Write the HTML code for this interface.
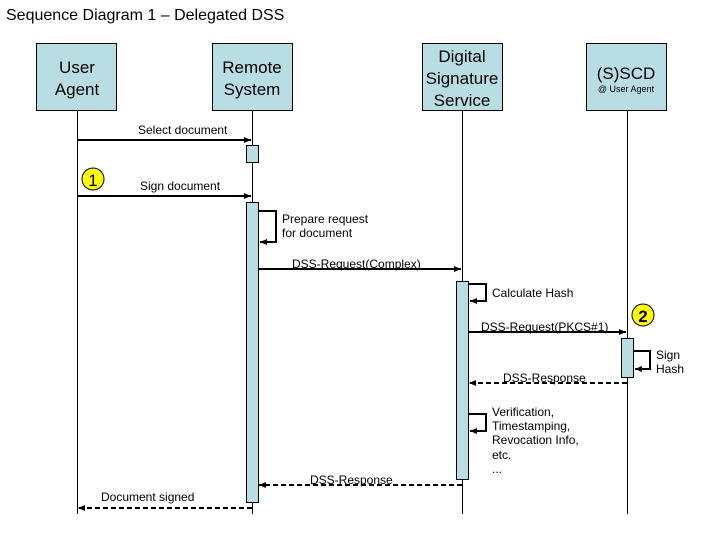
<!DOCTYPE html>
<html><head><meta charset="utf-8"><style>
body{margin:0;background:#fff}
svg{display:block}
text{font-family:"Liberation Sans",Arial,sans-serif;fill:#000}
</style></head><body>
<svg width="720" height="540" viewBox="0 0 720 540" xmlns="http://www.w3.org/2000/svg">
<defs>
<marker id="a" markerWidth="8" markerHeight="8" refX="7" refY="4" orient="auto" markerUnits="userSpaceOnUse">
<path d="M0,1 L7,4 L0,7 Z" fill="#000"/></marker>
</defs>
<text x="6" y="20" font-size="16">Sequence Diagram 1 – Delegated DSS</text>
<g fill="#b8dde3" stroke="#000" stroke-width="1">
<rect x="36.5" y="43.5" width="80" height="67"/>
<rect x="212.5" y="43.5" width="80" height="67"/>
<rect x="422.5" y="43.5" width="80" height="67"/>
<rect x="586.5" y="43.5" width="80" height="67"/>
</g>
<g font-size="17" text-anchor="middle">
<text x="77" y="73">User</text><text x="77" y="95">Agent</text>
<text x="252" y="73">Remote</text><text x="252" y="95">System</text>
<text x="462" y="62">Digital</text><text x="462" y="84">Signature</text><text x="462" y="106">Service</text>
<text x="626" y="79">(S)SCD</text>
<text x="626" y="92" font-size="9">@ User Agent</text>
</g>
<g stroke="#000" stroke-width="1">
<line x1="77.5" y1="111" x2="77.5" y2="514"/>
<line x1="252.5" y1="111" x2="252.5" y2="514"/>
<line x1="462.5" y1="111" x2="462.5" y2="514"/>
<line x1="627.5" y1="111" x2="627.5" y2="514"/>
</g>
<g fill="#b8dde3" stroke="#000" stroke-width="1">
<rect x="246.5" y="145.5" width="12" height="17"/>
<rect x="246.5" y="202.5" width="12" height="300"/>
<rect x="456.5" y="281.5" width="12" height="198"/>
<rect x="621.5" y="338.5" width="12" height="39"/>
</g>
<g stroke="#000" stroke-width="2" fill="none">
<line x1="77" y1="140" x2="251" y2="140" marker-end="url(#a)"/>
<line x1="77" y1="196" x2="251" y2="196" marker-end="url(#a)"/>
<polyline points="258,211 276,211 276,242 260,242" marker-end="url(#a)"/>
<line x1="258" y1="269" x2="461" y2="269" marker-end="url(#a)"/>
<polyline points="468,284 486,284 486,301 470,301" marker-end="url(#a)"/>
<line x1="468" y1="332" x2="626" y2="332" marker-end="url(#a)"/>
<polyline points="633,351 650,351 650,369 635,369" marker-end="url(#a)"/>
<polyline points="468,414 486,414 486,431 470,431" marker-end="url(#a)"/>
<g stroke-dasharray="5,3">
<line x1="627" y1="383" x2="469" y2="383" marker-end="url(#a)"/>
<line x1="462" y1="485" x2="259" y2="485" marker-end="url(#a)"/>
<line x1="252" y1="508" x2="78" y2="508" marker-end="url(#a)"/>
</g>
</g>
<g font-size="12">
<text x="138" y="134">Select document</text>
<text x="140" y="190">Sign document</text>
<text x="282" y="223">Prepare request</text>
<text x="282" y="237">for document</text>
<text x="292" y="268">DSS-Request(Complex)</text>
<text x="492" y="297">Calculate Hash</text>
<text x="481" y="331">DSS-Request(PKCS#1)</text>
<text x="656" y="359">Sign</text>
<text x="656" y="373">Hash</text>
<text x="503" y="382">DSS-Response</text>
<text x="492" y="416">Verification,</text>
<text x="492" y="430">Timestamping,</text>
<text x="492" y="444">Revocation Info,</text>
<text x="492" y="459">etc.</text>
<text x="492" y="473">...</text>
<text x="310" y="484">DSS-Response</text>
<text x="101" y="501">Document signed</text>
</g>
<circle cx="93" cy="179" r="11" fill="#ffff00" stroke="#000"/>
<text x="93" y="186" font-size="17" text-anchor="middle">1</text>
<circle cx="643" cy="315" r="11" fill="#ffff00" stroke="#000"/>
<text x="643" y="322" font-size="17" font-weight="bold" text-anchor="middle">2</text>
</svg>
</body></html>
